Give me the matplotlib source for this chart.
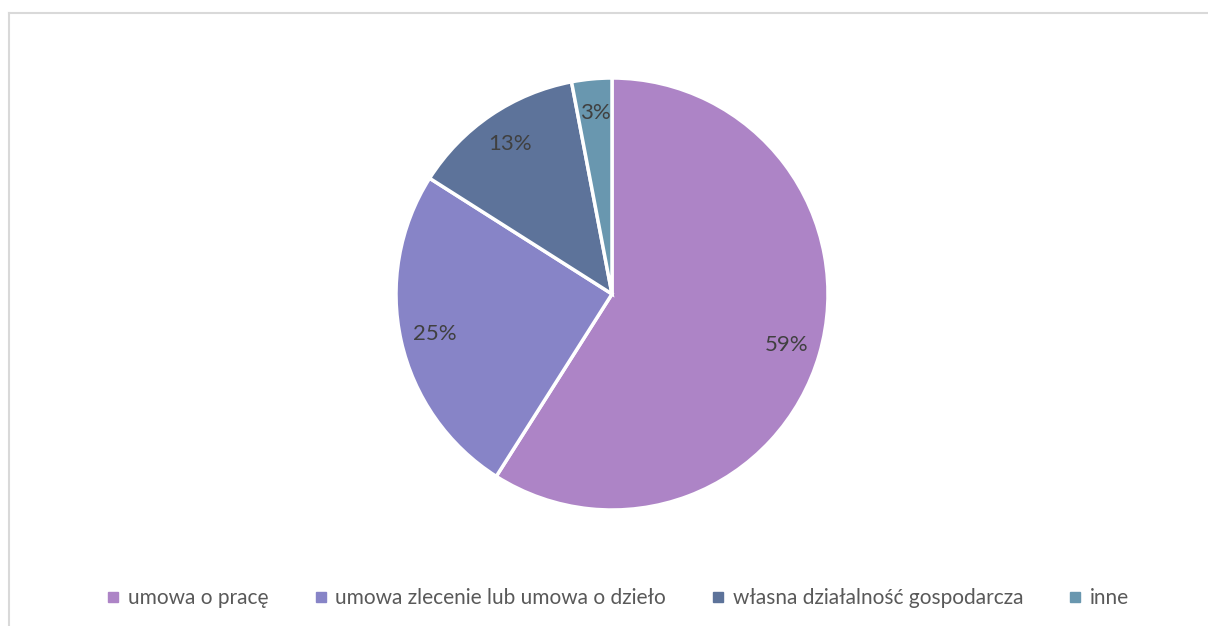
import matplotlib
matplotlib.use("Agg")
import matplotlib.pyplot as plt
from matplotlib.lines import Line2D

categories = ["umowa o pracę", "umowa zlecenie lub umowa o dzieło",
              "własna działalność gospodarcza", "inne"]
values = [59, 25, 13, 3]
colors = ["#AD84C6", "#8784C7", "#5D739A", "#6997AF"]

plt.rcParams['font.family'] = ['Lato', 'DejaVu Sans']

W, H = 1208, 626
fig = plt.figure(figsize=(W / 100, H / 100), dpi=100)
fig.patch.set_facecolor("white")

cx, cy, r = 612, 294, 216
ax = fig.add_axes([(cx - r) / W, (H - cy - r) / H, 2 * r / W, 2 * r / H])
wedges, texts, autotexts = ax.pie(
    values, colors=colors, startangle=90, counterclock=False,
    autopct=lambda p: f"{p:.0f}%", pctdistance=0.84, radius=1,
    wedgeprops=dict(edgecolor="white", linewidth=2.5),
    textprops=dict(color="#404040", fontsize=16))
ax.set_xlim(-1.0, 1.0)
ax.set_ylim(-1.0, 1.0)
ax.set_aspect("equal")
ax.axis("off")

handles = [Line2D([], [], marker="s", linestyle="none", markersize=7,
                  markerfacecolor=c, markeredgecolor=c) for c in colors]
fig.legend(handles, categories, loc="center", bbox_to_anchor=(618 / W, 1 - 598 / H),
           ncol=4, frameon=False, fontsize=15, labelcolor="#595959",
           handlelength=0.6, handletextpad=0.4, columnspacing=2.2)

# chart area border (top and left visible)
fig.add_artist(Line2D([9 / W, 1], [1 - 13 / H, 1 - 13 / H], color="#d9d9d9", linewidth=1.5))
fig.add_artist(Line2D([9 / W, 9 / W], [0, 1 - 13 / H], color="#d9d9d9", linewidth=1.5))

fig.savefig("out.png", dpi=100)
